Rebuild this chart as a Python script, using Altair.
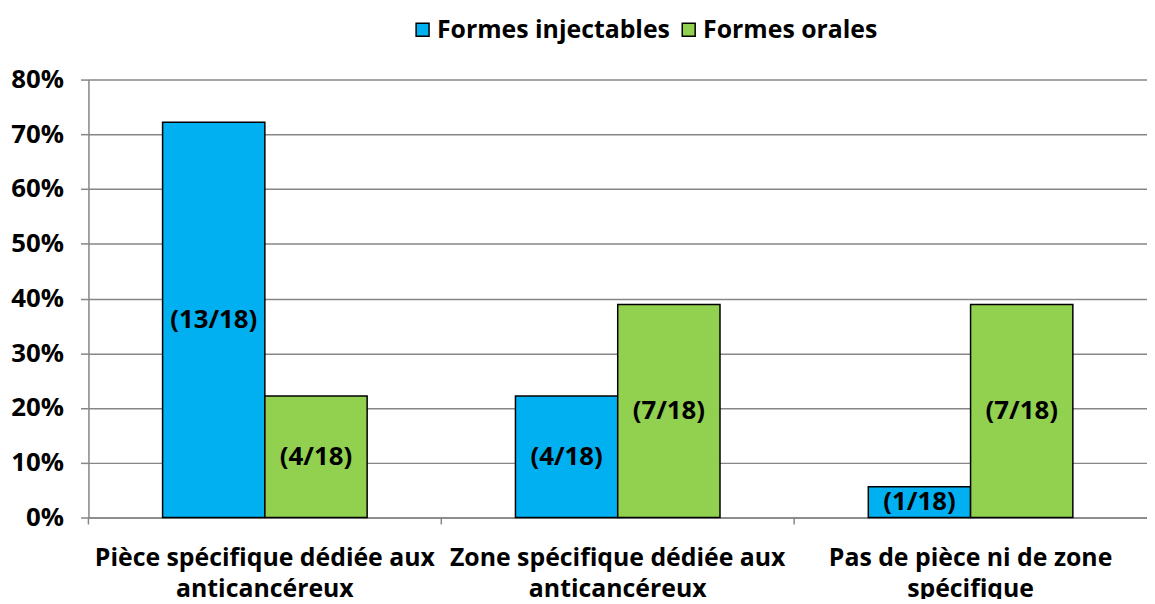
import altair as alt
import pandas as pd

categories = [
    "Pièce spécifique dédiée aux\nanticancéreux",
    "Zone spécifique dédiée aux\nanticancéreux",
    "Pas de pièce ni de zone\nspécifique",
]
series = ["Formes injectables", "Formes orales"]
injectables = [72.2, 22.2, 5.6]
orales = [22.2, 38.9, 38.9]
labels_inj = ["(13/18)", "(4/18)", "(1/18)"]
labels_ora = ["(4/18)", "(7/18)", "(7/18)"]
colors = ["#00B0F0", "#92D050"]
y_ticks = [0, 10, 20, 30, 40, 50, 60, 70, 80]

rows = []
for i, c in enumerate(categories):
    rows.append({"cat": c, "series": series[0], "value": injectables[i], "label": labels_inj[i]})
    rows.append({"cat": c, "series": series[1], "value": orales[i], "label": labels_ora[i]})
df = pd.DataFrame(rows)
sep_df = pd.DataFrame({"cat": categories})

FONT = "Open Sans"
FS = 25
W, H = 1066, 441
GRID = "#868686"

x_enc = alt.X(
    "cat:N", sort=categories,
    scale=alt.Scale(paddingInner=0, paddingOuter=0),
    axis=alt.Axis(
        title=None, labelAngle=0, labelExpr="split(datum.label, '\\n')",
        labelFont=FONT, labelFontSize=FS, labelFontWeight="bold", labelColor="black",
        labelPadding=28, labelLineHeight=32, ticks=False, domainColor=GRID, domainWidth=1.5,
        labelLimit=500,
    ),
)
xoff = alt.XOffset("series:N", sort=series, scale=alt.Scale(paddingInner=0, paddingOuter=0.725))
y_enc = alt.Y(
    "value:Q", scale=alt.Scale(domain=[0, 80], nice=False),
    axis=alt.Axis(
        title=None, values=y_ticks, labelExpr="datum.value + '%'",
        labelFont=FONT, labelFontSize=26, labelFontWeight="bold", labelColor="black",
        grid=True, gridColor=GRID, gridWidth=1.5, domainColor=GRID, domainWidth=1.5,
        tickColor=GRID, tickWidth=1.5, tickSize=8, labelPadding=17,
    ),
)
color_enc = alt.Color(
    "series:N", sort=series, scale=alt.Scale(domain=series, range=colors),
    legend=alt.Legend(
        title=None, orient="none", direction="horizontal", legendX=324, legendY=-63,
        symbolType="square", symbolSize=170, symbolStrokeColor="black", symbolStrokeWidth=1.5,
        labelFont=FONT, labelFontSize=FS, labelFontWeight="bold", labelColor="black",
        columnPadding=6, labelOffset=2, symbolOpacity=1, labelLimit=500,
    ),
)

bars = alt.Chart(df).mark_bar(stroke="black", strokeWidth=1.5, opacity=1).encode(
    x=x_enc, xOffset=xoff, y=y_enc, color=color_enc
)
texts = alt.Chart(df).transform_calculate(mid="datum.value / 2").mark_text(
    font=FONT, fontSize=26, fontWeight="bold", color="black", baseline="middle"
).encode(x=alt.X("cat:N", sort=categories), xOffset=xoff, y=alt.Y("mid:Q"), text="label:N")
seps = alt.Chart(sep_df).mark_rule(color=GRID, strokeWidth=1.5).encode(
    x=alt.X("cat:N", sort=categories, bandPosition=0),
    y=alt.value(H), y2=alt.value(H + 7),
)

chart = alt.layer(bars, texts, seps).properties(
    width=W, height=H,
    padding={"left": 81, "top": 70, "right": 0, "bottom": 80},
    autosize=alt.AutoSizeParams(type="none"),
).configure_view(stroke=None)

chart.save("out.html", embed_options={"renderer": "svg", "actions": False})
